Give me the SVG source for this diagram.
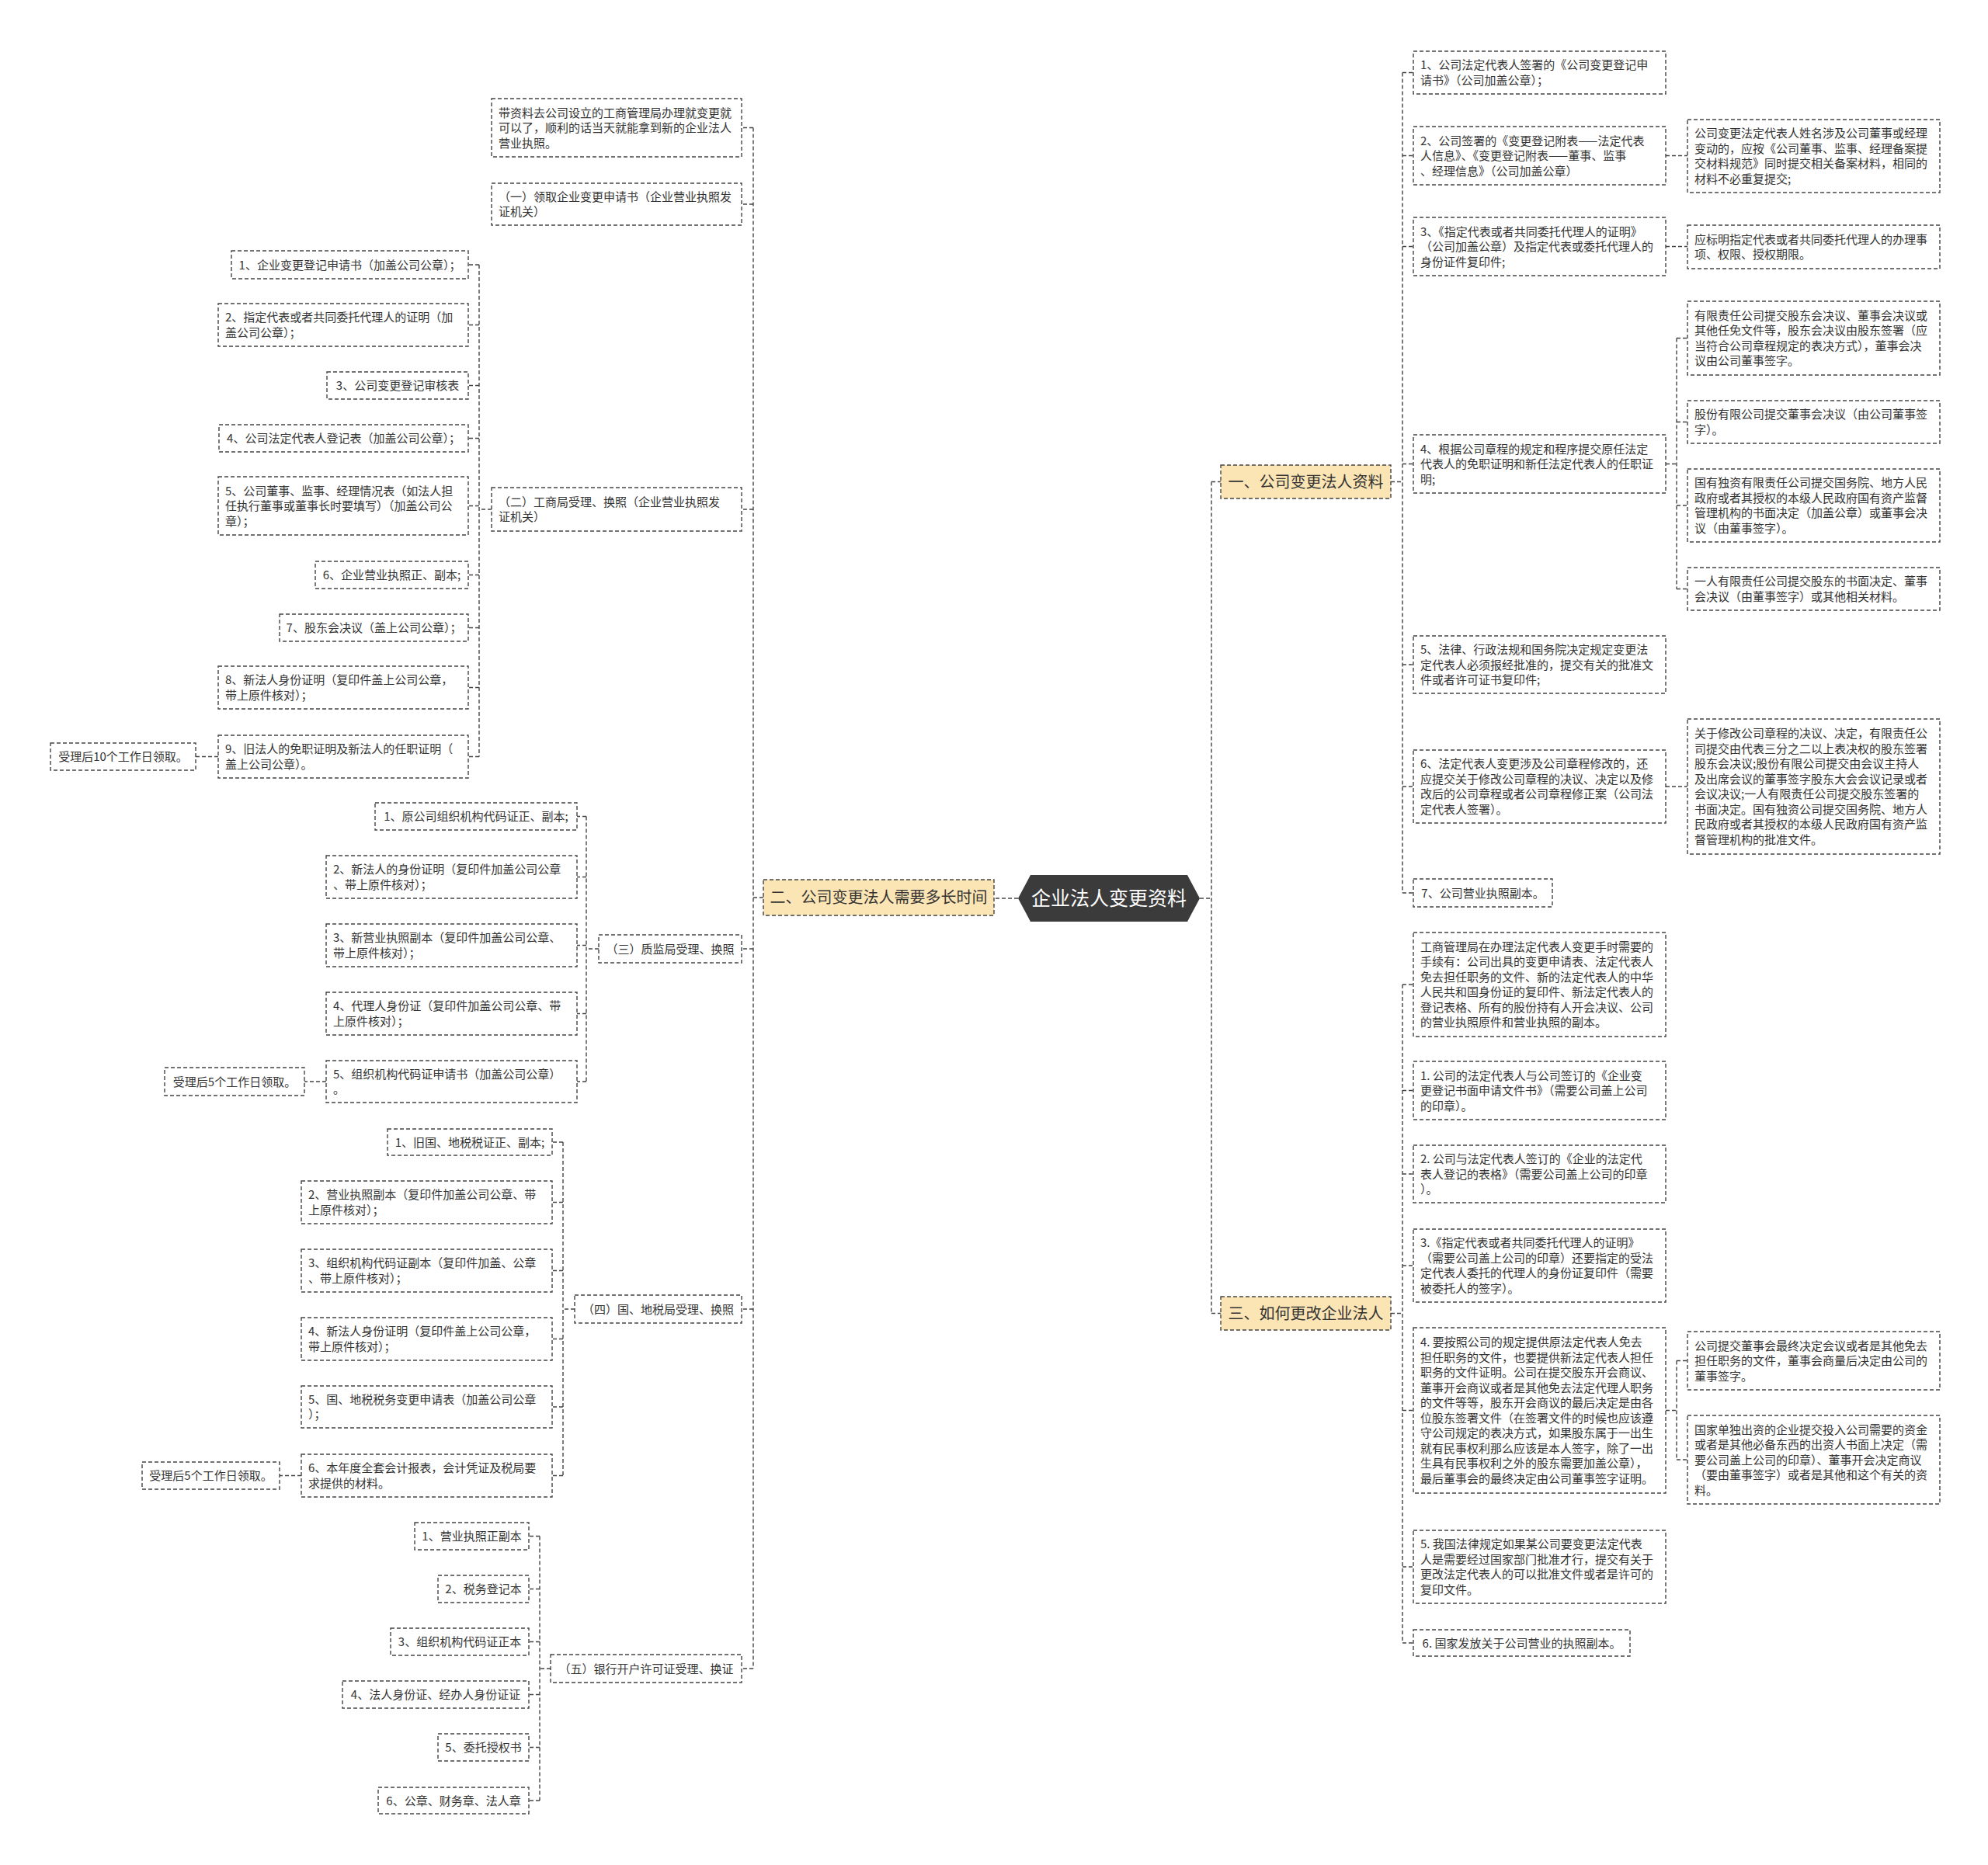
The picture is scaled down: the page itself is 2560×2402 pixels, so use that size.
<svg xmlns="http://www.w3.org/2000/svg" width="2560" height="2402" viewBox="0 0 2560 2402">
<style>
.box{fill:#fff;stroke:#444;stroke-width:1.4;stroke-dasharray:5 3}
.br{fill:#fce5b4;stroke:#444;stroke-width:1.4;stroke-dasharray:5 3}
.ln{fill:none;stroke:#444;stroke-width:1.4;stroke-dasharray:5 3}
text{font-family:"Noto Sans CJK SC","Noto Sans",sans-serif;font-size:15px;fill:#333}
.c{text-anchor:middle}
.bt{font-size:20px;text-anchor:middle;fill:#333}
.root{font-size:25px;text-anchor:middle;fill:#fff}
</style>
<rect width="2560" height="2402" fill="#fff"/>
<g id="connectors">
<path class="ln" d="M1545,1157H1560M1560,620.5V1691.5M1560,620.5H1572M1560,1691.5H1572"/>
<path class="ln" d="M1311,1157H1280"/>
<path class="ln" d="M1791,620.5H1806M1806,93.5V1150M1806,93.5H1820M1806,200.5H1820M1806,317.5H1820M1806,597.5H1820M1806,856H1820M1806,1013H1820M1806,1150H1820"/>
<path class="ln" d="M2145,200.5H2173M2145,317.5H2173M2145,597.5H2159M2159,435.5V758.5M2159,435.5H2173M2159,543.5H2173M2159,651H2173M2159,758.5H2173M2145,1013H2173"/>
<path class="ln" d="M1791,1691.5H1806M1806,1268V2116M1806,1268H1820M1806,1404.5H1820M1806,1512H1820M1806,1630H1820M1806,1816.5H1820M1806,2018H1820M1806,2116H1820"/>
<path class="ln" d="M2145,1816.5H2159M2159,1752.5V1880M2159,1752.5H2173M2159,1880H2173"/>
<path class="ln" d="M983,1156H970M970,164.5V2149M970,164.5H955M970,263H955M970,656H955M970,1222H955M970,1686H955M970,2149H955"/>
<path class="ln" d="M633,656H617M617,341V974.5M617,341H603M617,418.5H603M617,496.5H603M617,564.5H603M617,651.5H603M617,740.5H603M617,808.5H603M617,885.5H603M617,974.5H603M281,974.5H252"/>
<path class="ln" d="M771,1222H755M755,1051.5V1393M755,1051.5H743M755,1129.5H743M755,1217.5H743M755,1305.5H743M755,1393H743M420,1393H392"/>
<path class="ln" d="M740,1686H725M725,1471V1900.5M725,1471H711M725,1548.5H711M725,1636.5H711M725,1724.5H711M725,1812H711M725,1900.5H711M388,1900.5H360"/>
<path class="ln" d="M709,2149H695M695,1978.5V2319M695,1978.5H681M695,2046.5H681M695,2114.5H681M695,2182.5H681M695,2250.5H681M695,2319H681"/>
</g>
<g id="root">
<polygon points="1311,1157 1327,1127 1529,1127 1545,1157 1529,1187 1327,1187" fill="#3b3b3b"/>
<text class="root" x="1428" y="1166">企业法人变更资料</text>
</g>
<g id="b1"><rect class="br" x="1572" y="599" width="219" height="43"/><text class="bt" x="1681.5" y="627.5">一、公司变更法人资料</text></g>
<g id="b2"><rect class="br" x="983" y="1133" width="297" height="46"/><text class="bt" x="1131.5" y="1163">二、公司变更法人需要多长时间</text></g>
<g id="b3"><rect class="br" x="1572" y="1670" width="219" height="43"/><text class="bt" x="1681.5" y="1698.5">三、如何更改企业法人</text></g>

<g id="r1"><rect class="box" x="1820" y="66" width="325" height="55"/><text x="1829"><tspan x="1829" y="89.25">1、公司法定代表人签署的《公司变更登记申</tspan><tspan x="1829" y="108.75">请书》（公司加盖公章）；</tspan></text></g>
<g id="r2"><rect class="box" x="1820" y="163" width="325" height="75"/><text><tspan x="1829" y="186.5">2、公司签署的《变更登记附表——法定代表</tspan><tspan x="1829" y="206">人信息》、《变更登记附表——董事、监事</tspan><tspan x="1829" y="225.5">、经理信息》（公司加盖公章）</tspan></text></g>
<g id="r2c"><rect class="box" x="2173" y="154" width="325" height="94"/><text><tspan x="2182" y="177.25">公司变更法定代表人姓名涉及公司董事或经理</tspan><tspan x="2182" y="196.75">变动的，应按《公司董事、监事、经理备案提</tspan><tspan x="2182" y="216.25">交材料规范》同时提交相关备案材料，相同的</tspan><tspan x="2182" y="235.75">材料不必重复提交;</tspan></text></g>
<g id="r3"><rect class="box" x="1820" y="280" width="325" height="75"/><text><tspan x="1829" y="303.5">3、《指定代表或者共同委托代理人的证明》</tspan><tspan x="1829" y="323">（公司加盖公章）及指定代表或委托代理人的</tspan><tspan x="1829" y="342.5">身份证件复印件;</tspan></text></g>
<g id="r3c"><rect class="box" x="2173" y="290" width="325" height="56"/><text><tspan x="2182" y="313.75">应标明指定代表或者共同委托代理人的办理事</tspan><tspan x="2182" y="333.25">项、权限、授权期限。</tspan></text></g>
<g id="r4"><rect class="box" x="1820" y="560" width="325" height="75"/><text><tspan x="1829" y="583.5">4、根据公司章程的规定和程序提交原任法定</tspan><tspan x="1829" y="603">代表人的免职证明和新任法定代表人的任职证</tspan><tspan x="1829" y="622.5">明;</tspan></text></g>
<g id="r4a"><rect class="box" x="2173" y="388" width="325" height="95"/><text><tspan x="2182" y="411.75">有限责任公司提交股东会决议、董事会决议或</tspan><tspan x="2182" y="431.25">其他任免文件等，股东会决议由股东签署（应</tspan><tspan x="2182" y="450.75">当符合公司章程规定的表决方式），董事会决</tspan><tspan x="2182" y="470.25">议由公司董事签字。</tspan></text></g>
<g id="r4b"><rect class="box" x="2173" y="516" width="325" height="55"/><text><tspan x="2182" y="539.25">股份有限公司提交董事会决议（由公司董事签</tspan><tspan x="2182" y="558.75">字）。</tspan></text></g>
<g id="r4c"><rect class="box" x="2173" y="604" width="325" height="94"/><text><tspan x="2182" y="627.25">国有独资有限责任公司提交国务院、地方人民</tspan><tspan x="2182" y="646.75">政府或者其授权的本级人民政府国有资产监督</tspan><tspan x="2182" y="666.25">管理机构的书面决定（加盖公章）或董事会决</tspan><tspan x="2182" y="685.75">议（由董事签字）。</tspan></text></g>
<g id="r4d"><rect class="box" x="2173" y="731" width="325" height="55"/><text><tspan x="2182" y="754.25">一人有限责任公司提交股东的书面决定、董事</tspan><tspan x="2182" y="773.75">会决议（由董事签字）或其他相关材料。</tspan></text></g>
<g id="r5"><rect class="box" x="1820" y="819" width="325" height="74"/><text><tspan x="1829" y="842">5、法律、行政法规和国务院决定规定变更法</tspan><tspan x="1829" y="861.5">定代表人必须报经批准的，提交有关的批准文</tspan><tspan x="1829" y="881">件或者许可证书复印件;</tspan></text></g>
<g id="r6"><rect class="box" x="1820" y="966" width="325" height="94"/><text><tspan x="1829" y="989.25">6、法定代表人变更涉及公司章程修改的，还</tspan><tspan x="1829" y="1008.75">应提交关于修改公司章程的决议、决定以及修</tspan><tspan x="1829" y="1028.25">改后的公司章程或者公司章程修正案（公司法</tspan><tspan x="1829" y="1047.75">定代表人签署）。</tspan></text></g>
<g id="r6c"><rect class="box" x="2173" y="926" width="325" height="174"/><text><tspan x="2182" y="950.25">关于修改公司章程的决议、决定，有限责任公</tspan><tspan x="2182" y="969.75">司提交由代表三分之二以上表决权的股东签署</tspan><tspan x="2182" y="989.25">股东会决议;股份有限公司提交由会议主持人</tspan><tspan x="2182" y="1008.75">及出席会议的董事签字股东大会会议记录或者</tspan><tspan x="2182" y="1028.25">会议决议;一人有限责任公司提交股东签署的</tspan><tspan x="2182" y="1047.75">书面决定。国有独资公司提交国务院、地方人</tspan><tspan x="2182" y="1067.25">民政府或者其授权的本级人民政府国有资产监</tspan><tspan x="2182" y="1086.75">督管理机构的批准文件。</tspan></text></g>
<g id="r7"><rect class="box" x="1820" y="1132" width="179" height="36"/><text class="c" x="1909.5" y="1155.5">7、公司营业执照副本。</text></g>

<g id="s0"><rect class="box" x="1820" y="1201" width="325" height="134"/><text><tspan x="1829" y="1224.75">工商管理局在办理法定代表人变更手时需要的</tspan><tspan x="1829" y="1244.25">手续有：公司出具的变更申请表、法定代表人</tspan><tspan x="1829" y="1263.75">免去担任职务的文件、新的法定代表人的中华</tspan><tspan x="1829" y="1283.25">人民共和国身份证的复印件、新法定代表人的</tspan><tspan x="1829" y="1302.75">登记表格、所有的股份持有人开会决议、公司</tspan><tspan x="1829" y="1322.25">的营业执照原件和营业执照的副本。</tspan></text></g>
<g id="s1"><rect class="box" x="1820" y="1367" width="325" height="75"/><text><tspan x="1829" y="1390.5">1. 公司的法定代表人与公司签订的《企业变</tspan><tspan x="1829" y="1410">更登记书面申请文件书》（需要公司盖上公司</tspan><tspan x="1829" y="1429.5">的印章）。</tspan></text></g>
<g id="s2"><rect class="box" x="1820" y="1475" width="325" height="74"/><text><tspan x="1829" y="1498">2. 公司与法定代表人签订的《企业的法定代</tspan><tspan x="1829" y="1517.5">表人登记的表格》（需要公司盖上公司的印章</tspan><tspan x="1829" y="1537">）。</tspan></text></g>
<g id="s3"><rect class="box" x="1820" y="1583" width="325" height="94"/><text><tspan x="1829" y="1606.25">3.《指定代表或者共同委托代理人的证明》</tspan><tspan x="1829" y="1625.75">（需要公司盖上公司的印章）还要指定的受法</tspan><tspan x="1829" y="1645.25">定代表人委托的代理人的身份证复印件（需要</tspan><tspan x="1829" y="1664.75">被委托人的签字）。</tspan></text></g>
<g id="s4"><rect class="box" x="1820" y="1710" width="325" height="213"/><text><tspan x="1829" y="1734.25">4. 要按照公司的规定提供原法定代表人免去</tspan><tspan x="1829" y="1753.75">担任职务的文件，也要提供新法定代表人担任</tspan><tspan x="1829" y="1773.25">职务的文件证明。公司在提交股东开会商议、</tspan><tspan x="1829" y="1792.75">董事开会商议或者是其他免去法定代理人职务</tspan><tspan x="1829" y="1812.25">的文件等等，股东开会商议的最后决定是由各</tspan><tspan x="1829" y="1831.75">位股东签署文件（在签署文件的时候也应该遵</tspan><tspan x="1829" y="1851.25">守公司规定的表决方式，如果股东属于一出生</tspan><tspan x="1829" y="1870.75">就有民事权利那么应该是本人签字，除了一出</tspan><tspan x="1829" y="1890.25">生具有民事权利之外的股东需要加盖公章），</tspan><tspan x="1829" y="1909.75">最后董事会的最终决定由公司董事签字证明。</tspan></text></g>
<g id="s4a"><rect class="box" x="2173" y="1715" width="325" height="75"/><text><tspan x="2182" y="1738.5">公司提交董事会最终决定会议或者是其他免去</tspan><tspan x="2182" y="1758">担任职务的文件，董事会商量后决定由公司的</tspan><tspan x="2182" y="1777.5">董事签字。</tspan></text></g>
<g id="s4b"><rect class="box" x="2173" y="1823" width="325" height="114"/><text><tspan x="2182" y="1846.5">国家单独出资的企业提交投入公司需要的资金</tspan><tspan x="2182" y="1866">或者是其他必备东西的出资人书面上决定（需</tspan><tspan x="2182" y="1885.5">要公司盖上公司的印章）、董事开会决定商议</tspan><tspan x="2182" y="1905">（要由董事签字）或者是其他和这个有关的资</tspan><tspan x="2182" y="1924.5">料。</tspan></text></g>
<g id="s5"><rect class="box" x="1820" y="1971" width="325" height="94"/><text><tspan x="1829" y="1994.25">5. 我国法律规定如果某公司要变更法定代表</tspan><tspan x="1829" y="2013.75">人是需要经过国家部门批准才行，提交有关于</tspan><tspan x="1829" y="2033.25">更改法定代表人的可以批准文件或者是许可的</tspan><tspan x="1829" y="2052.75">复印文件。</tspan></text></g>
<g id="s6"><rect class="box" x="1820" y="2099" width="279" height="34"/><text class="c" x="1959.5" y="2121.5">6. 国家发放关于公司营业的执照副本。</text></g>

<g id="l0"><rect class="box" x="633" y="127" width="322" height="75"/><text><tspan x="642" y="150.5">带资料去公司设立的工商管理局办理就变更就</tspan><tspan x="642" y="170">可以了，顺利的话当天就能拿到新的企业法人</tspan><tspan x="642" y="189.5">营业执照。</tspan></text></g>
<g id="l1"><rect class="box" x="633" y="236" width="322" height="54"/><text><tspan x="642" y="258.75">（一）领取企业变更申请书（企业营业执照发</tspan><tspan x="642" y="278.25">证机关）</tspan></text></g>
<g id="l2"><rect class="box" x="633" y="628" width="322" height="56"/><text><tspan x="642" y="651.75">（二）工商局受理、换照（企业营业执照发</tspan><tspan x="642" y="671.25">证机关）</tspan></text></g>
<g id="c1"><rect class="box" x="298" y="323" width="305" height="36"/><text class="c" x="450.5" y="346.5">1、企业变更登记申请书（加盖公司公章）；</text></g>
<g id="c2"><rect class="box" x="281" y="391" width="322" height="55"/><text><tspan x="290" y="414.25">2、指定代表或者共同委托代理人的证明（加</tspan><tspan x="290" y="433.75">盖公司公章）；</tspan></text></g>
<g id="c3"><rect class="box" x="421" y="479" width="182" height="35"/><text class="c" x="512" y="502">3、公司变更登记审核表</text></g>
<g id="c4"><rect class="box" x="282" y="547" width="321" height="35"/><text class="c" x="442.5" y="570">4、公司法定代表人登记表（加盖公司公章）；</text></g>
<g id="c5"><rect class="box" x="281" y="614" width="322" height="75"/><text><tspan x="290" y="637.5">5、公司董事、监事、经理情况表（如法人担</tspan><tspan x="290" y="657">任执行董事或董事长时要填写）（加盖公司公</tspan><tspan x="290" y="676.5">章）；</tspan></text></g>
<g id="c6"><rect class="box" x="406" y="723" width="197" height="35"/><text class="c" x="504.5" y="746">6、企业营业执照正、副本;</text></g>
<g id="c7"><rect class="box" x="360" y="791" width="243" height="35"/><text class="c" x="481.5" y="814">7、股东会决议（盖上公司公章）；</text></g>
<g id="c8"><rect class="box" x="281" y="858" width="322" height="55"/><text><tspan x="290" y="881.25">8、新法人身份证明（复印件盖上公司公章，</tspan><tspan x="290" y="900.75">带上原件核对）；</tspan></text></g>
<g id="c9"><rect class="box" x="281" y="947" width="322" height="55"/><text><tspan x="290" y="970.25">9、旧法人的免职证明及新法人的任职证明（</tspan><tspan x="290" y="989.75">盖上公司公章）。</tspan></text></g>
<g id="c9a"><rect class="box" x="65" y="957" width="187" height="35"/><text class="c" x="158.5" y="980">受理后10个工作日领取。</text></g>

<g id="l3"><rect class="box" x="771" y="1204" width="184" height="36"/><text class="c" x="863" y="1227.5">（三）质监局受理、换照</text></g>
<g id="d1"><rect class="box" x="483" y="1034" width="260" height="35"/><text class="c" x="613" y="1057">1、原公司组织机构代码证正、副本;</text></g>
<g id="d2"><rect class="box" x="420" y="1102" width="323" height="55"/><text><tspan x="429" y="1125.25">2、新法人的身份证明（复印件加盖公司公章</tspan><tspan x="429" y="1144.75">、带上原件核对）；</tspan></text></g>
<g id="d3"><rect class="box" x="420" y="1190" width="323" height="55"/><text><tspan x="429" y="1213.25">3、新营业执照副本（复印件加盖公司公章、</tspan><tspan x="429" y="1232.75">带上原件核对）；</tspan></text></g>
<g id="d4"><rect class="box" x="420" y="1278" width="323" height="55"/><text><tspan x="429" y="1301.25">4、代理人身份证（复印件加盖公司公章、带</tspan><tspan x="429" y="1320.75">上原件核对）；</tspan></text></g>
<g id="d5"><rect class="box" x="420" y="1366" width="323" height="54"/><text><tspan x="429" y="1388.75">5、组织机构代码证申请书（加盖公司公章）</tspan><tspan x="429" y="1408.25">。</tspan></text></g>
<g id="d5a"><rect class="box" x="212" y="1375" width="180" height="36"/><text class="c" x="302" y="1398.5">受理后5个工作日领取。</text></g>

<g id="l4"><rect class="box" x="740" y="1668" width="215" height="36"/><text class="c" x="847.5" y="1691.5">（四）国、地税局受理、换照</text></g>
<g id="e1"><rect class="box" x="499" y="1454" width="212" height="34"/><text class="c" x="605" y="1476.5">1、旧国、地税税证正、副本;</text></g>
<g id="e2"><rect class="box" x="388" y="1521" width="323" height="55"/><text><tspan x="397" y="1544.25">2、营业执照副本（复印件加盖公司公章、带</tspan><tspan x="397" y="1563.75">上原件核对）；</tspan></text></g>
<g id="e3"><rect class="box" x="388" y="1609" width="323" height="55"/><text><tspan x="397" y="1632.25">3、组织机构代码证副本（复印件加盖、公章</tspan><tspan x="397" y="1651.75">、带上原件核对）；</tspan></text></g>
<g id="e4"><rect class="box" x="388" y="1697" width="323" height="55"/><text><tspan x="397" y="1720.25">4、新法人身份证明（复印件盖上公司公章，</tspan><tspan x="397" y="1739.75">带上原件核对）；</tspan></text></g>
<g id="e5"><rect class="box" x="388" y="1785" width="323" height="54"/><text><tspan x="397" y="1807.75">5、国、地税税务变更申请表（加盖公司公章</tspan><tspan x="397" y="1827.25">）；</tspan></text></g>
<g id="e6"><rect class="box" x="388" y="1873" width="323" height="55"/><text><tspan x="397" y="1896.25">6、本年度全套会计报表，会计凭证及税局要</tspan><tspan x="397" y="1915.75">求提供的材料。</tspan></text></g>
<g id="e6a"><rect class="box" x="183" y="1883" width="177" height="35"/><text class="c" x="271.5" y="1906">受理后5个工作日领取。</text></g>

<g id="l5"><rect class="box" x="709" y="2131" width="246" height="36"/><text class="c" x="832" y="2154.5">（五）银行开户许可证受理、换证</text></g>
<g id="f1"><rect class="box" x="534" y="1961" width="147" height="35"/><text class="c" x="607.5" y="1984">1、营业执照正副本</text></g>
<g id="f2"><rect class="box" x="564" y="2029" width="117" height="35"/><text class="c" x="622.5" y="2052">2、税务登记本</text></g>
<g id="f3"><rect class="box" x="503" y="2097" width="178" height="35"/><text class="c" x="592" y="2120">3、组织机构代码证正本</text></g>
<g id="f4"><rect class="box" x="441" y="2165" width="240" height="35"/><text class="c" x="561" y="2188">4、法人身份证、经办人身份证证</text></g>
<g id="f5"><rect class="box" x="564" y="2233" width="117" height="35"/><text class="c" x="622.5" y="2256">5、委托授权书</text></g>
<g id="f6"><rect class="box" x="487" y="2302" width="194" height="34"/><text class="c" x="584" y="2324.5">6、公章、财务章、法人章</text></g>
</svg>
